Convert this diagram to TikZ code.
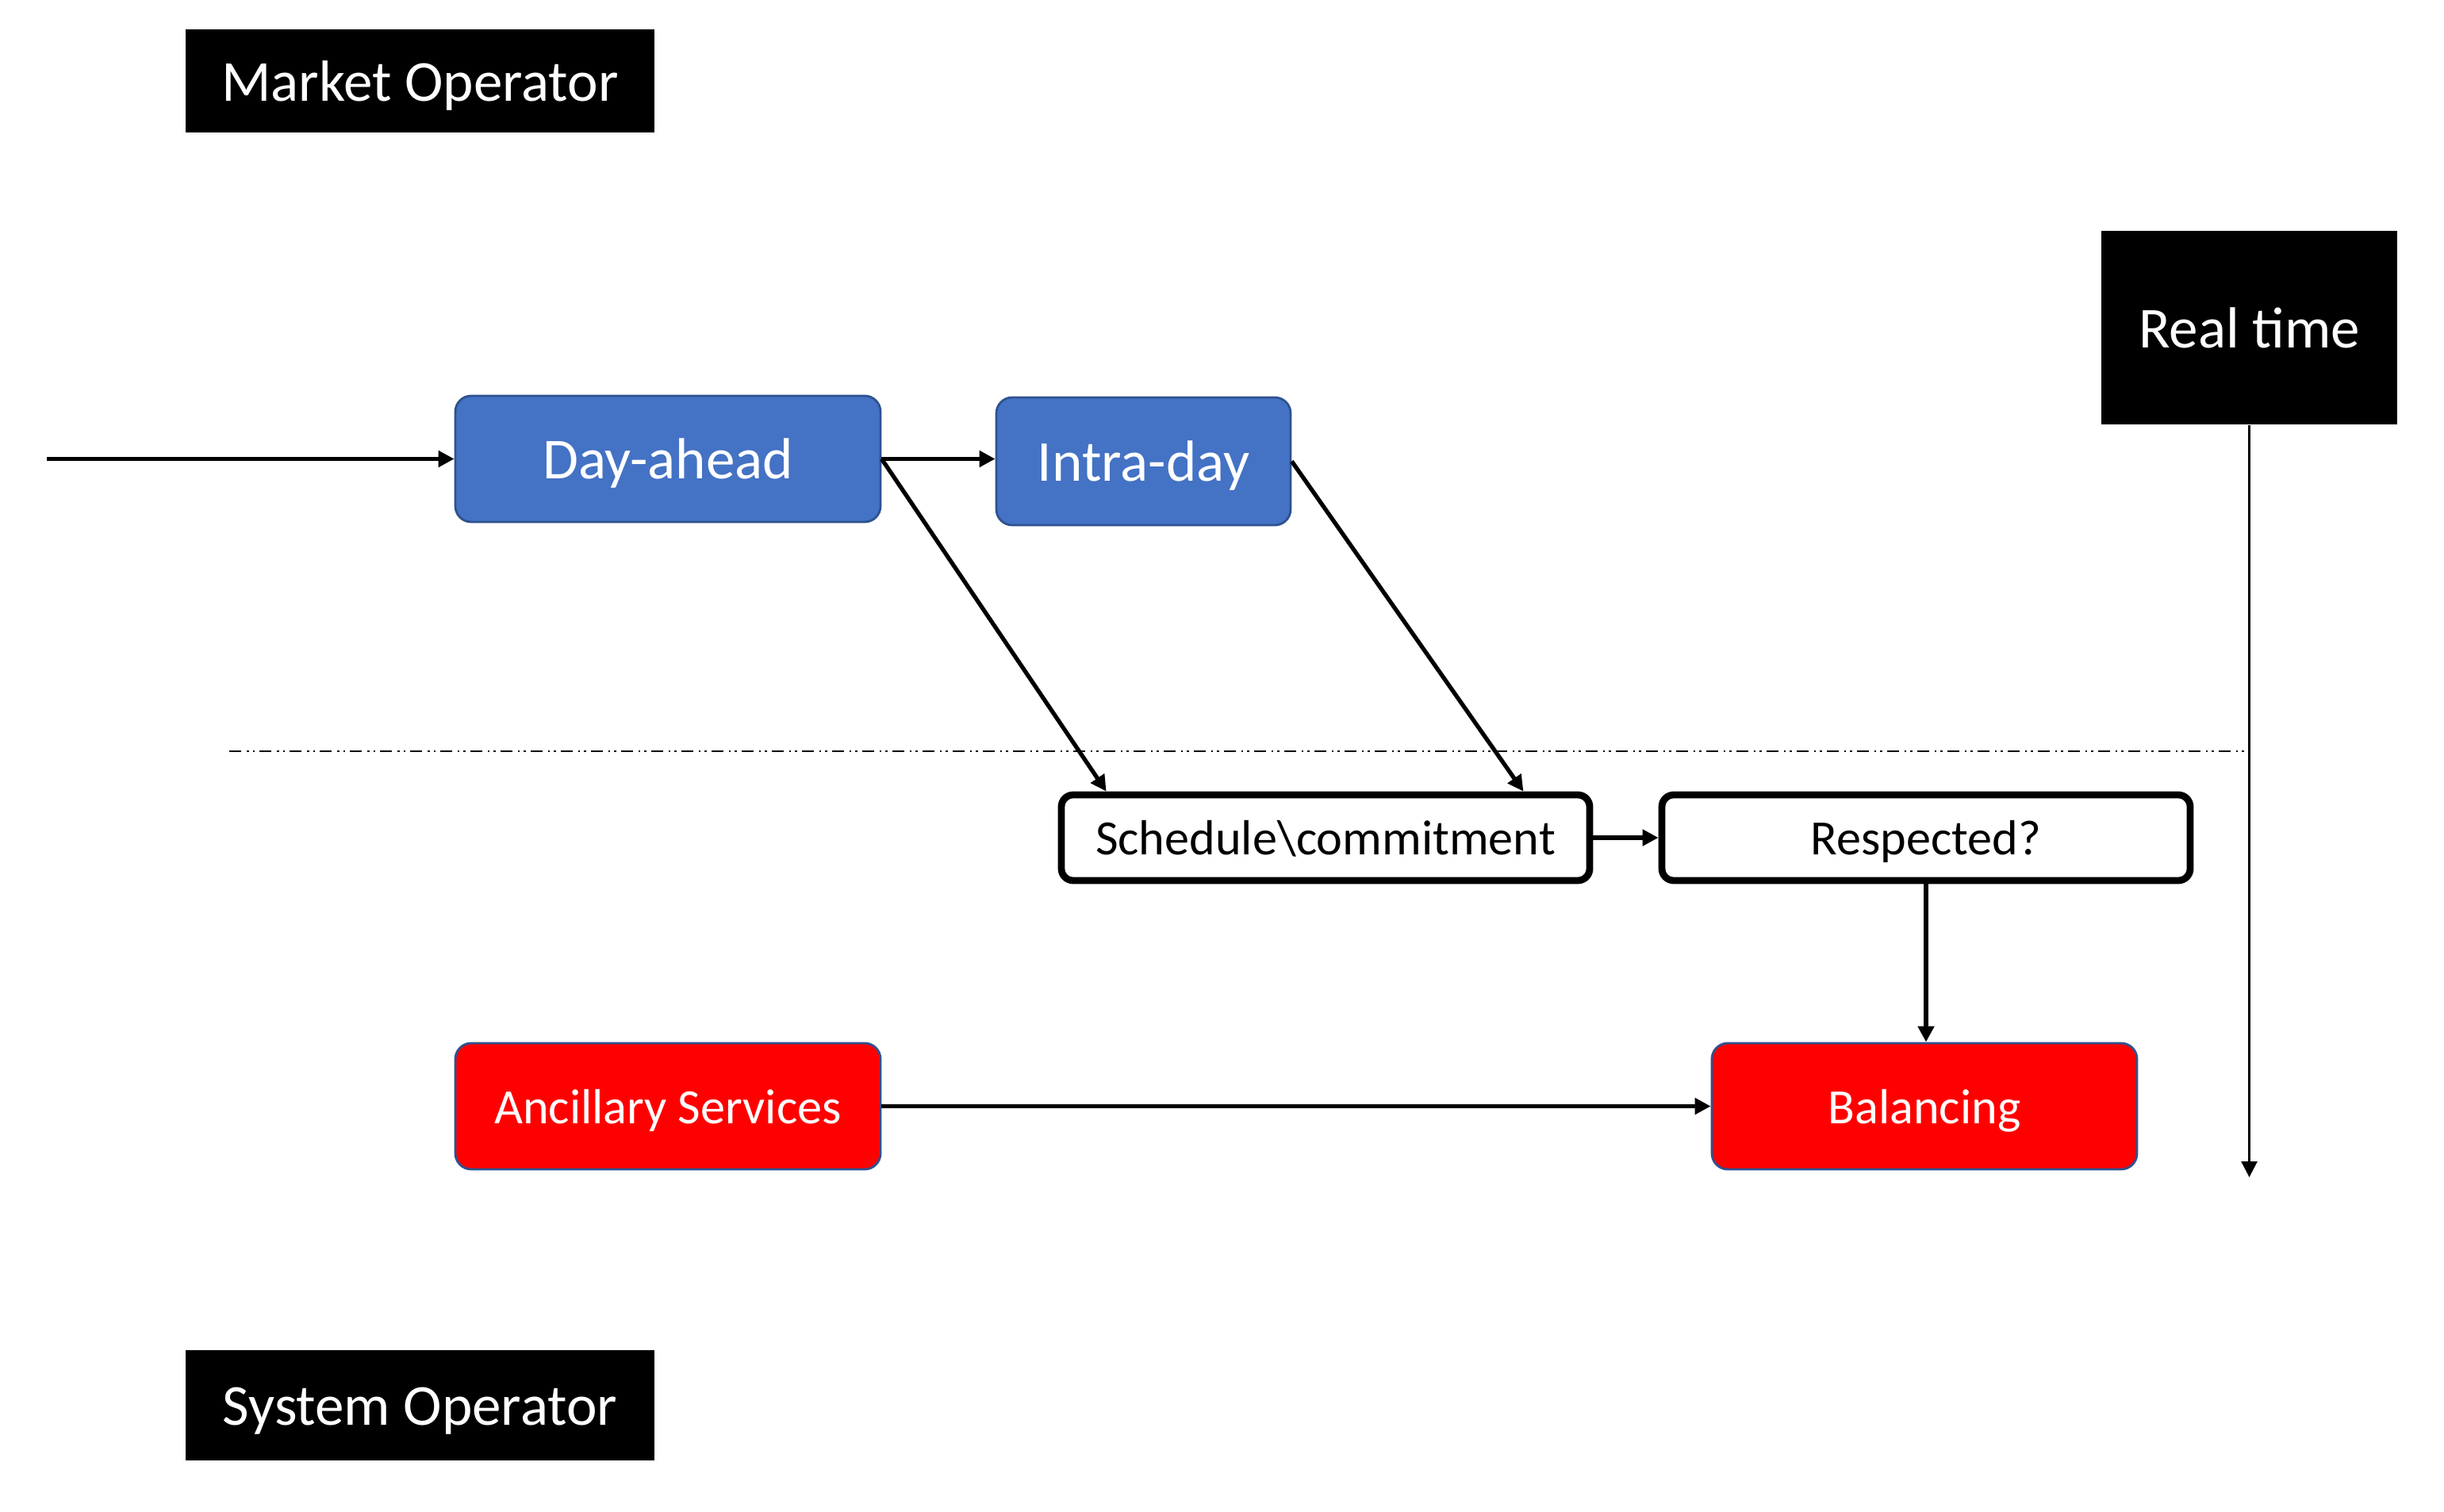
\documentclass[tikz,border=0pt]{standalone}
\usepackage{fontspec}
\setmainfont{Carlito}
\usetikzlibrary{arrows.meta}
\definecolor{officeblue}{HTML}{4472C4}
\definecolor{boxedge}{HTML}{2F528F}
\tikzset{
  bigtext/.style={font=\fontsize{20.8}{25}\selectfont, text height=18.7pt, text depth=4.2pt},
  smalltext/.style={font=\fontsize{17.7}{21}\selectfont, text height=15.9pt, text depth=3.5pt},
  actor/.style={fill=black, text=white, inner sep=0pt, bigtext},
  market/.style={fill=officeblue, draw=boxedge, line width=0.8pt, rounded corners=0.2cm,
    text=white, inner sep=0pt, minimum width=5.36cm, minimum height=1.59cm, bigtext},
  system/.style={fill=red, draw=boxedge, line width=0.8pt, rounded corners=0.2cm,
    text=white, inner sep=0pt, minimum width=5.36cm, minimum height=1.59cm, smalltext},
  check/.style={draw=black, line width=2.5pt, rounded corners=0.15cm, inner sep=0pt,
    minimum width=6.66cm, minimum height=1.08cm, smalltext},
  flow/.style={line width=1.5pt, -{Triangle[length=0.2cm,width=0.2cm]}},
  border/.style={line width=0.65pt,
    dash pattern=on 0.15cm off 0.07cm on 0.025cm off 0.05cm on 0.025cm off 0.06cm}
}
\begin{document}
\begin{tikzpicture}
\useasboundingbox (0,0) rectangle (30.81,19.05);

% actors and time
\node[actor, minimum width=5.91cm, minimum height=1.30cm] (mo) at (5.295,18.03) {Market Operator};
\node[actor, minimum width=5.91cm, minimum height=1.39cm] (so) at (5.295,1.335) {System Operator};
\node[actor, minimum width=3.73cm, minimum height=2.44cm] (rt) at (28.355,14.92) {Real time};
\coordinate (end) at (28.355,4.21);
\draw[line width=0.8pt, -{Triangle[length=0.2cm,width=0.2cm]}] (rt) -- (end);

% markets
\coordinate (start) at (0.59,13.265);
\node[market] (da) at (8.42,13.265) {Day-ahead};
\node[market, minimum width=3.71cm, minimum height=1.61cm] (id) at (14.415,13.235) {Intra-day};
\draw[flow] (start) -- (da);
\draw[flow] (da.east) -- (da.east -| id.west);

% separation
\draw[border] (2.89,9.58) -- (28.30,9.58);

% checks
\node[check] (sc) at (16.71,8.49) {Schedule\textbackslash commitment};
\node[check] (rs) at (24.28,8.49) {Respected?};
\draw[flow] (da.east) -- ([xshift=0.61cm]sc.north west);
\draw[flow] (id.east) -- ([xshift=-0.88cm]sc.north east);
\draw[flow] (sc) -- (rs);

% system services
\node[system] (as) at (8.42,5.105) {Ancillary Services};
\node[system] (bl) at (24.26,5.105) {Balancing};
\draw[flow] (rs.south) -- (rs.south |- bl.north);
\draw[flow] (as) -- (bl);
\end{tikzpicture}
\end{document}
